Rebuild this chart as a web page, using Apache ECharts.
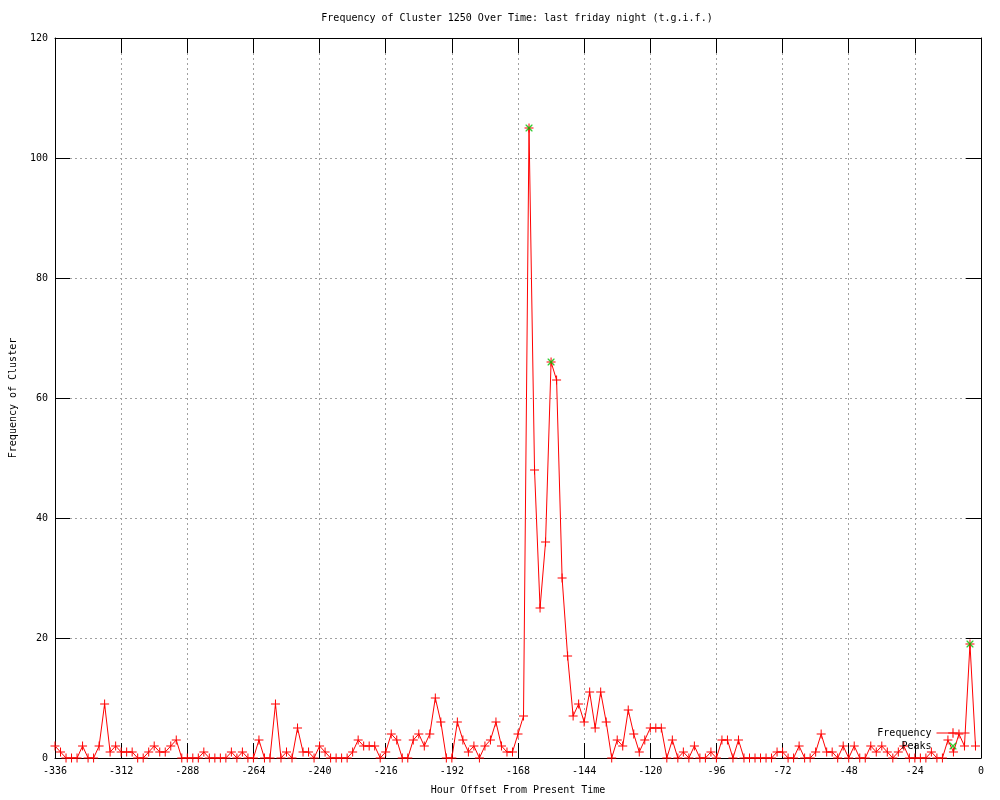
<!DOCTYPE html>
<html>
<head>
<meta charset="utf-8">
<script src="https://cdn.jsdelivr.net/npm/echarts@6/dist/echarts.min.js"></script>
<style>
  html, body { margin: 0; padding: 0; background: #ffffff; }
  #chart { width: 1000px; height: 800px; }
</style>
</head>
<body>
<div id="chart"></div>
<script>
// Hour offsets (x) of each sample
var hours = [
  -336,-334,-332,-330,-328,-326,-324,-322,-320,-318,-316,-314,-312,-310,-308,-306,-304,-302,-300,-298,
  -296,-294,-292,-290,-288,-286,-284,-282,-280,-278,-276,-274,-272,-270,-268,-266,-264,-262,-260,-258,
  -256,-254,-252,-250,-248,-246,-244,-242,-240,-238,-236,-234,-232,-230,-228,-226,-224,-222,-220,-218,
  -216,-214,-212,-210,-208,-206,-204,-202,-200,-198,-196,-194,-192,-190,-188,-186,-184,-182,-180,-178,
  -176,-174,-172,-170,-168,-166,-164,-162,-160,-158,-156,-154,-152,-150,-148,-146,-144,-142,-140,-138,
  -136,-134,-132,-130,-128,-126,-124,-122,-120,-118,-116,-114,-112,-110,-108,-106,-104,-102,-100,-98,
  -96,-94,-92,-90,-88,-86,-84,-82,-80,-78,-76,-74,-72,-70,-68,-66,-64,-62,-60,-58,
  -56,-54,-52,-50,-48,-46,-44,-42,-40,-38,-36,-34,-32,-30,-28,-26,-24,-22,-20,-18,
  -16,-14,-12,-10,-8,-6,-4,-2
];
// Frequency values at each hour offset
var frequency = [
  2,1,0,0,0,2,0,0,2,9,1,2,1,1,1,0,0,1,2,1,
  1,2,3,0,0,0,0,1,0,0,0,0,1,0,1,0,0,3,0,0,
  9,0,1,0,5,1,1,0,2,1,0,0,0,0,1,3,2,2,2,0,
  1,4,3,0,0,3,4,2,4,10,6,0,0,6,3,1,2,0,2,3,
  6,2,1,1,4,7,105,48,25,36,66,63,30,17,7,9,6,11,5,11,
  6,0,3,2,8,4,1,3,5,5,5,0,3,0,1,0,2,0,0,1,
  0,3,3,0,3,0,0,0,0,0,0,1,1,0,0,2,0,0,1,4,
  1,1,0,2,0,2,0,0,2,1,2,1,0,1,2,0,0,0,0,1,
  0,0,3,1,4,2,19,2
];
// Detected peaks
var peakHours = [-164, -156, -4];
var peakValues = [105, 66, 19];

// Axis ticks
var xTickMin = -336, xTickMax = 0, xTickStep = 24;
var yTickMin = 0, yTickMax = 120, yTickStep = 20;

var FONT = 'DejaVu Sans Mono';
var plusPath = 'path://M0,4h9v1h-9z M4,0h1v9h-1z';
var crossPath = 'path://M0,0L1,0L7,6L7,7L6,7L0,1Z M6,0L7,0L7,1L1,7L0,7L0,6Z';
var crossLegendPath = 'path://M-2.5,-2.5 M9.5,9.5 M0,0L1,0L7,6L7,7L6,7L0,1Z M6,0L7,0L7,1L1,7L0,7L0,6Z';

var freqData = hours.map(function (h, i) { return [h, frequency[i]]; });
var peakData = peakHours.map(function (h, i) { return [h, peakValues[i]]; });

var tickStyle = { show: true, inside: true, length: 15, lineStyle: { color: '#000', width: 1 } };
var axisLineStyle = { show: true, onZero: false, lineStyle: { color: '#000', width: 1 } };
var labelFont = { fontFamily: FONT, fontSize: 10, color: '#000' };

var chart = echarts.init(document.getElementById('chart'), null, { renderer: 'canvas' });
chart.setOption({
  animation: false,
  backgroundColor: '#ffffff',
  title: {
    text: 'Frequency of Cluster 1250 Over Time: last friday night (t.g.i.f.)',
    left: 517,
    top: 13,
    padding: 0,
    textAlign: 'center',
    textStyle: { fontFamily: FONT, fontSize: 10, fontWeight: 'normal', color: '#000' }
  },
  grid: { left: 55, right: 19, top: 38, bottom: 40, containLabel: false },
  legend: {
    orient: 'vertical',
    align: 'right',
    right: 30,
    top: 728,
    padding: 0,
    itemWidth: 33,
    itemHeight: 12,
    itemGap: 2,
    selectedMode: false,
    lineStyle: { width: 1 },
    textStyle: { fontFamily: FONT, fontSize: 10, color: '#000' },
    data: [
      { name: 'Frequency' },
      { name: 'Peaks', icon: crossLegendPath }
    ]
  },
  xAxis: [
    {
      type: 'value',
      position: 'bottom',
      min: xTickMin, max: xTickMax, interval: xTickStep,
      name: 'Hour Offset From Present Time',
      nameLocation: 'middle',
      nameGap: 27,
      nameTextStyle: labelFont,
      axisLine: axisLineStyle,
      axisTick: tickStyle,
      axisLabel: Object.assign({ margin: 8, showMinLabel: true, showMaxLabel: true }, labelFont),
      splitLine: { show: true, lineStyle: { color: '#a0a0a0', width: 1, type: [2, 3] } }
    },
    {
      type: 'value',
      position: 'top',
      min: xTickMin, max: xTickMax, interval: xTickStep,
      axisLine: axisLineStyle,
      axisTick: tickStyle,
      axisLabel: { show: false },
      splitLine: { show: false }
    }
  ],
  yAxis: [
    {
      type: 'value',
      position: 'left',
      min: yTickMin, max: yTickMax, interval: yTickStep,
      name: 'Frequency of Cluster',
      nameLocation: 'middle',
      nameGap: 37,
      nameTextStyle: labelFont,
      axisLine: axisLineStyle,
      axisTick: tickStyle,
      axisLabel: Object.assign({ margin: 7 }, labelFont),
      splitLine: { show: true, lineStyle: { color: '#a0a0a0', width: 1, type: [2, 3] } }
    },
    {
      type: 'value',
      position: 'right',
      min: yTickMin, max: yTickMax, interval: yTickStep,
      axisLine: axisLineStyle,
      axisTick: tickStyle,
      axisLabel: { show: false },
      splitLine: { show: false }
    }
  ],
  series: [
    {
      name: 'Frequency',
      type: 'line',
      xAxisIndex: 0, yAxisIndex: 0,
      data: freqData,
      symbol: plusPath,
      symbolSize: 9,
      showSymbol: true,
      showAllSymbol: true,
      silent: true,
      lineStyle: { color: '#ff0000', width: 1 },
      itemStyle: { color: '#ff0000' },
      z: 3
    },
    {
      name: 'Peaks',
      type: 'scatter',
      xAxisIndex: 0, yAxisIndex: 0,
      data: peakData,
      symbol: crossPath,
      symbolSize: 7,
      silent: true,
      itemStyle: { color: '#00c000' },
      z: 4
    }
  ]
});
</script>
</body>
</html>
